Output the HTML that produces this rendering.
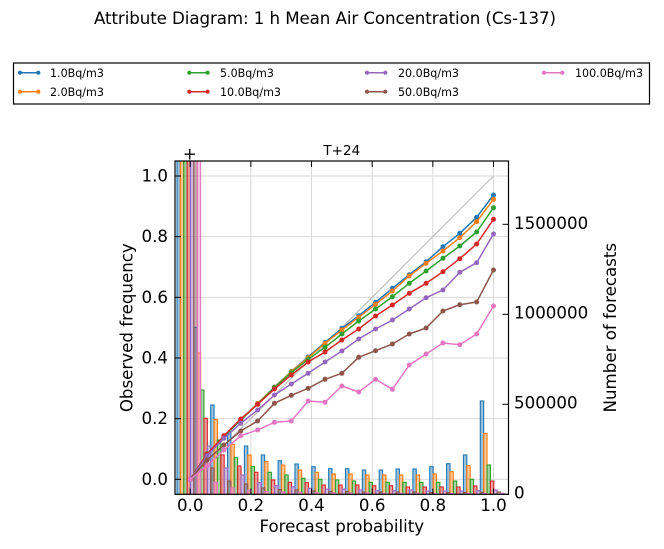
<!DOCTYPE html>
<html>
<head>
<meta charset="utf-8">
<style>
  html, body { margin:0; padding:0; background:#ffffff; }
  body { width:664px; height:549px; overflow:hidden; }
  svg { display:block; }
  text { font-family: "DejaVu Sans", "Liberation Sans", sans-serif; fill:#000; }
</style>
</head>
<body>
<svg width="664" height="549" viewBox="0 0 664 549" xmlns="http://www.w3.org/2000/svg">
  <defs>
    <clipPath id="ax"><rect x="175" y="161" width="333.5" height="333.3"/></clipPath>
    <marker id="m0" markerUnits="userSpaceOnUse" markerWidth="6" markerHeight="6" refX="3" refY="3" viewBox="0 0 6 6"><circle cx="3" cy="3" r="2.5" fill="#1f77b4"/></marker>
    <marker id="m1" markerUnits="userSpaceOnUse" markerWidth="6" markerHeight="6" refX="3" refY="3" viewBox="0 0 6 6"><circle cx="3" cy="3" r="2.5" fill="#ff7f0e"/></marker>
    <marker id="m2" markerUnits="userSpaceOnUse" markerWidth="6" markerHeight="6" refX="3" refY="3" viewBox="0 0 6 6"><circle cx="3" cy="3" r="2.5" fill="#2ca02c"/></marker>
    <marker id="m3" markerUnits="userSpaceOnUse" markerWidth="6" markerHeight="6" refX="3" refY="3" viewBox="0 0 6 6"><circle cx="3" cy="3" r="2.5" fill="#d62728"/></marker>
    <marker id="m4" markerUnits="userSpaceOnUse" markerWidth="6" markerHeight="6" refX="3" refY="3" viewBox="0 0 6 6"><circle cx="3" cy="3" r="2.5" fill="#9467bd"/></marker>
    <marker id="m5" markerUnits="userSpaceOnUse" markerWidth="6" markerHeight="6" refX="3" refY="3" viewBox="0 0 6 6"><circle cx="3" cy="3" r="2.5" fill="#8c564b"/></marker>
    <marker id="m6" markerUnits="userSpaceOnUse" markerWidth="6" markerHeight="6" refX="3" refY="3" viewBox="0 0 6 6"><circle cx="3" cy="3" r="2.5" fill="#e377c2"/></marker>
  </defs>

  <!-- Title -->
  <text x="94" y="24" font-size="16.67" textLength="462" lengthAdjust="spacing">Attribute Diagram: 1 h Mean Air Concentration (Cs-137)</text>

  <!-- Legend -->
  <rect x="13.5" y="63" width="636" height="41" fill="#fff" stroke="#000" stroke-width="1.2"/>
  <g stroke-width="1.5" font-size="11.1">
    <line x1="20" y1="72.7" x2="38.3" y2="72.7" stroke="#1f77b4"/><circle cx="20" cy="72.7" r="2.1" fill="#1f77b4"/><circle cx="38.3" cy="72.7" r="2.1" fill="#1f77b4"/>
    <text x="50" y="76.8">1.0Bq/m3</text>
    <line x1="20" y1="91.7" x2="38.3" y2="91.7" stroke="#ff7f0e"/><circle cx="20" cy="91.7" r="2.1" fill="#ff7f0e"/><circle cx="38.3" cy="91.7" r="2.1" fill="#ff7f0e"/>
    <text x="50" y="95.8">2.0Bq/m3</text>
    <line x1="189.3" y1="72.7" x2="207.6" y2="72.7" stroke="#2ca02c"/><circle cx="189.3" cy="72.7" r="2.1" fill="#2ca02c"/><circle cx="207.6" cy="72.7" r="2.1" fill="#2ca02c"/>
    <text x="220" y="76.8">5.0Bq/m3</text>
    <line x1="189.3" y1="91.7" x2="207.6" y2="91.7" stroke="#d62728"/><circle cx="189.3" cy="91.7" r="2.1" fill="#d62728"/><circle cx="207.6" cy="91.7" r="2.1" fill="#d62728"/>
    <text x="220" y="95.8">10.0Bq/m3</text>
    <line x1="367" y1="72.7" x2="385.3" y2="72.7" stroke="#9467bd"/><circle cx="367" cy="72.7" r="2.1" fill="#9467bd"/><circle cx="385.3" cy="72.7" r="2.1" fill="#9467bd"/>
    <text x="398" y="76.8">20.0Bq/m3</text>
    <line x1="367" y1="91.7" x2="385.3" y2="91.7" stroke="#8c564b"/><circle cx="367" cy="91.7" r="2.1" fill="#8c564b"/><circle cx="385.3" cy="91.7" r="2.1" fill="#8c564b"/>
    <text x="398" y="95.8">50.0Bq/m3</text>
    <line x1="544" y1="72.7" x2="562.3" y2="72.7" stroke="#e377c2"/><circle cx="544" cy="72.7" r="2.1" fill="#e377c2"/><circle cx="562.3" cy="72.7" r="2.1" fill="#e377c2"/>
    <text x="575" y="76.8">100.0Bq/m3</text>
  </g>

  <!-- Subplot title and marker -->
  <text x="341.8" y="155" font-size="13.5" text-anchor="middle">T+24</text>
  <text x="189.7" y="159.5" font-size="16.67" text-anchor="middle">+</text>

  <!-- Grid -->
  <g stroke="#d9d9d9" stroke-width="1">
    <line x1="190.2" y1="161" x2="190.2" y2="494.3"/>
    <line x1="250.86" y1="161" x2="250.86" y2="494.3"/>
    <line x1="311.52" y1="161" x2="311.52" y2="494.3"/>
    <line x1="372.18" y1="161" x2="372.18" y2="494.3"/>
    <line x1="432.84" y1="161" x2="432.84" y2="494.3"/>
    <line x1="493.5" y1="161" x2="493.5" y2="494.3"/>
    <line x1="175" y1="479.3" x2="508.5" y2="479.3"/>
    <line x1="175" y1="418.64" x2="508.5" y2="418.64"/>
    <line x1="175" y1="357.98" x2="508.5" y2="357.98"/>
    <line x1="175" y1="297.32" x2="508.5" y2="297.32"/>
    <line x1="175" y1="236.66" x2="508.5" y2="236.66"/>
    <line x1="175" y1="176" x2="508.5" y2="176"/>
  </g>

  <g clip-path="url(#ax)">
    <!-- Diagonal -->
    <line x1="190.2" y1="479.3" x2="493.5" y2="176" stroke="#c0c0c0" stroke-width="1.2"/>

    <!-- Bars -->
    <g fill-opacity="0.45" stroke-opacity="1" stroke-width="1.1">
      <g fill="#1f77b4" stroke="#1f77b4" transform="translate(0,0)">
        <rect x="177.00" y="140" width="3.37" height="354.3"/>
        <rect x="193.85" y="327.3" width="3.37" height="167"/>
        <rect x="210.70" y="405" width="3.37" height="89.3"/>
        <rect x="227.55" y="433.5" width="3.37" height="60.8"/>
        <rect x="244.40" y="446" width="3.37" height="48.3"/>
        <rect x="261.25" y="455" width="3.37" height="39.3"/>
        <rect x="278.10" y="460.7" width="3.37" height="33.6"/>
        <rect x="294.95" y="464" width="3.37" height="30.3"/>
        <rect x="311.80" y="466.7" width="3.37" height="27.6"/>
        <rect x="328.65" y="468.7" width="3.37" height="25.6"/>
        <rect x="345.50" y="468.7" width="3.37" height="25.6"/>
        <rect x="362.35" y="470" width="3.37" height="24.3"/>
        <rect x="379.20" y="470" width="3.37" height="24.3"/>
        <rect x="396.05" y="469" width="3.37" height="25.3"/>
        <rect x="412.90" y="469" width="3.37" height="25.3"/>
        <rect x="429.75" y="466.7" width="3.37" height="27.6"/>
        <rect x="446.60" y="463.7" width="3.37" height="30.6"/>
        <rect x="463.45" y="455" width="3.37" height="39.3"/>
        <rect x="480.30" y="401" width="3.37" height="93.3"/>
      </g>
      <g fill="#ff7f0e" stroke="#ff7f0e" transform="translate(3.37,0)">
        <rect x="177.00" y="140" width="3.37" height="354.3"/>
        <rect x="193.85" y="353" width="3.37" height="141.3"/>
        <rect x="210.70" y="419.5" width="3.37" height="74.8"/>
        <rect x="227.55" y="444.3" width="3.37" height="50"/>
        <rect x="244.40" y="455" width="3.37" height="39.3"/>
        <rect x="261.25" y="461.7" width="3.37" height="32.6"/>
        <rect x="278.10" y="465" width="3.37" height="29.3"/>
        <rect x="294.95" y="470" width="3.37" height="24.3"/>
        <rect x="311.80" y="472.3" width="3.37" height="22"/>
        <rect x="328.65" y="474" width="3.37" height="20.3"/>
        <rect x="345.50" y="474" width="3.37" height="20.3"/>
        <rect x="362.35" y="475" width="3.37" height="19.3"/>
        <rect x="379.20" y="475" width="3.37" height="19.3"/>
        <rect x="396.05" y="475" width="3.37" height="19.3"/>
        <rect x="412.90" y="475" width="3.37" height="19.3"/>
        <rect x="429.75" y="474" width="3.37" height="20.3"/>
        <rect x="446.60" y="471.7" width="3.37" height="22.6"/>
        <rect x="463.45" y="465.7" width="3.37" height="28.6"/>
        <rect x="480.30" y="433.3" width="3.37" height="61"/>
      </g>
      <g fill="#2ca02c" stroke="#2ca02c" transform="translate(6.74,0)">
        <rect x="177.00" y="140" width="3.37" height="354.3"/>
        <rect x="193.85" y="390" width="3.37" height="104.3"/>
        <rect x="210.70" y="440" width="3.37" height="54.3"/>
        <rect x="227.55" y="457.7" width="3.37" height="36.6"/>
        <rect x="244.40" y="466.7" width="3.37" height="27.6"/>
        <rect x="261.25" y="472.3" width="3.37" height="22"/>
        <rect x="278.10" y="475" width="3.37" height="19.3"/>
        <rect x="294.95" y="478.3" width="3.37" height="16"/>
        <rect x="311.80" y="479.3" width="3.37" height="15"/>
        <rect x="328.65" y="480" width="3.37" height="14.3"/>
        <rect x="345.50" y="481" width="3.37" height="13.3"/>
        <rect x="362.35" y="482.3" width="3.37" height="12"/>
        <rect x="379.20" y="482.3" width="3.37" height="12"/>
        <rect x="396.05" y="482.3" width="3.37" height="12"/>
        <rect x="412.90" y="482.3" width="3.37" height="12"/>
        <rect x="429.75" y="482.3" width="3.37" height="12"/>
        <rect x="446.60" y="481" width="3.37" height="13.3"/>
        <rect x="463.45" y="479.3" width="3.37" height="15"/>
        <rect x="480.30" y="465" width="3.37" height="29.3"/>
      </g>
      <g fill="#d62728" stroke="#d62728" transform="translate(10.11,0)">
        <rect x="177.00" y="140" width="3.37" height="354.3"/>
        <rect x="193.85" y="418.3" width="3.37" height="76"/>
        <rect x="210.70" y="455" width="3.37" height="39.3"/>
        <rect x="227.55" y="466" width="3.37" height="28.3"/>
        <rect x="244.40" y="472.3" width="3.37" height="22"/>
        <rect x="261.25" y="480" width="3.37" height="14.3"/>
        <rect x="278.10" y="482.3" width="3.37" height="12"/>
        <rect x="294.95" y="482.7" width="3.37" height="11.6"/>
        <rect x="311.80" y="485" width="3.37" height="9.3"/>
        <rect x="328.65" y="485" width="3.37" height="9.3"/>
        <rect x="345.50" y="485" width="3.37" height="9.3"/>
        <rect x="362.35" y="485.7" width="3.37" height="8.6"/>
        <rect x="379.20" y="485.7" width="3.37" height="8.6"/>
        <rect x="396.05" y="487" width="3.37" height="7.3"/>
        <rect x="412.90" y="487" width="3.37" height="7.3"/>
        <rect x="429.75" y="487" width="3.37" height="7.3"/>
        <rect x="446.60" y="487" width="3.37" height="7.3"/>
        <rect x="463.45" y="486" width="3.37" height="8.3"/>
        <rect x="480.30" y="481" width="3.37" height="13.3"/>
      </g>
      <g fill="#9467bd" stroke="#9467bd" transform="translate(13.48,0)">
        <rect x="177.00" y="140" width="3.37" height="354.3"/>
        <rect x="193.85" y="446" width="3.37" height="48.3"/>
        <rect x="210.70" y="468" width="3.37" height="26.3"/>
        <rect x="227.55" y="475" width="3.37" height="19.3"/>
        <rect x="244.40" y="482.7" width="3.37" height="11.6"/>
        <rect x="261.25" y="485.7" width="3.37" height="8.6"/>
        <rect x="278.10" y="486.7" width="3.37" height="7.6"/>
        <rect x="294.95" y="488.3" width="3.37" height="6"/>
        <rect x="311.80" y="489" width="3.37" height="5.3"/>
        <rect x="328.65" y="489" width="3.37" height="5.3"/>
        <rect x="345.50" y="490" width="3.37" height="4.3"/>
        <rect x="362.35" y="490.7" width="3.37" height="3.6"/>
        <rect x="379.20" y="490.7" width="3.37" height="3.6"/>
        <rect x="396.05" y="490" width="3.37" height="4.3"/>
        <rect x="412.90" y="491" width="3.37" height="3.3"/>
        <rect x="429.75" y="491" width="3.37" height="3.3"/>
        <rect x="446.60" y="491" width="3.37" height="3.3"/>
        <rect x="463.45" y="490.7" width="3.37" height="3.6"/>
        <rect x="480.30" y="490" width="3.37" height="4.3"/>
      </g>
      <g fill="#8c564b" stroke="#8c564b" transform="translate(16.85,0)">
        <rect x="177.00" y="140" width="3.37" height="354.3"/>
        <rect x="193.85" y="468" width="3.37" height="26.3"/>
        <rect x="210.70" y="481" width="3.37" height="13.3"/>
        <rect x="227.55" y="484" width="3.37" height="10.3"/>
        <rect x="244.40" y="488" width="3.37" height="6.3"/>
        <rect x="261.25" y="489.5" width="3.37" height="4.8"/>
        <rect x="278.10" y="490" width="3.37" height="4.3"/>
        <rect x="294.95" y="491" width="3.37" height="3.3"/>
        <rect x="311.80" y="491.5" width="3.37" height="2.8"/>
        <rect x="328.65" y="491.5" width="3.37" height="2.8"/>
        <rect x="345.50" y="492" width="3.37" height="2.3"/>
        <rect x="362.35" y="492" width="3.37" height="2.3"/>
        <rect x="379.20" y="492" width="3.37" height="2.3"/>
        <rect x="396.05" y="492" width="3.37" height="2.3"/>
        <rect x="412.90" y="492.5" width="3.37" height="1.8"/>
        <rect x="429.75" y="492.5" width="3.37" height="1.8"/>
        <rect x="446.60" y="492.5" width="3.37" height="1.8"/>
        <rect x="463.45" y="492.3" width="3.37" height="2"/>
        <rect x="480.30" y="492" width="3.37" height="2.3"/>
      </g>
      <g fill="#e377c2" stroke="#e377c2" transform="translate(20.22,0)">
        <rect x="177.00" y="140" width="3.37" height="354.3"/>
        <rect x="193.85" y="482" width="3.37" height="12.3"/>
        <rect x="210.70" y="488" width="3.37" height="6.3"/>
        <rect x="227.55" y="490" width="3.37" height="4.3"/>
        <rect x="244.40" y="491.5" width="3.37" height="2.8"/>
        <rect x="261.25" y="492" width="3.37" height="2.3"/>
        <rect x="278.10" y="492.3" width="3.37" height="2"/>
        <rect x="294.95" y="492.8" width="3.37" height="1.5"/>
        <rect x="311.80" y="493" width="3.37" height="1.3"/>
        <rect x="328.65" y="493" width="3.37" height="1.3"/>
        <rect x="345.50" y="493" width="3.37" height="1.3"/>
        <rect x="362.35" y="493.3" width="3.37" height="1"/>
        <rect x="379.20" y="493.3" width="3.37" height="1"/>
        <rect x="396.05" y="493.3" width="3.37" height="1"/>
        <rect x="412.90" y="493.5" width="3.37" height="0.8"/>
        <rect x="429.75" y="493.5" width="3.37" height="0.8"/>
        <rect x="446.60" y="493.5" width="3.37" height="0.8"/>
        <rect x="463.45" y="493.5" width="3.37" height="0.8"/>
        <rect x="480.30" y="493.3" width="3.37" height="1"/>
      </g>
    </g>

    <!-- Reliability lines -->
    <g fill="none" stroke-width="1.5" stroke-linejoin="round">
      <polyline stroke="#1f77b4" marker-start="url(#m0)" marker-mid="url(#m0)" marker-end="url(#m0)" points="190.2,479.3 207.05,454 223.9,436.5 240.75,420 257.6,403.5 274.45,387 291.3,371.5 308.15,357 325,342.5 341.85,328.3 358.7,315.7 375.55,302.3 392.4,288.3 409.25,274.7 426.1,261.7 442.95,246.7 459.8,233.3 476.65,217.3 493.5,195"/>
      <polyline stroke="#ff7f0e" marker-start="url(#m1)" marker-mid="url(#m1)" marker-end="url(#m1)" points="190.2,479.3 207.05,454 223.9,436.5 240.75,420 257.6,403.5 274.45,387.3 291.3,371.7 308.15,357.7 325,343.3 341.85,330 358.7,317.3 375.55,304.3 392.4,291 409.25,276 426.1,263.3 442.95,251 459.8,237.7 476.65,221.7 493.5,199.3"/>
      <polyline stroke="#2ca02c" marker-start="url(#m2)" marker-mid="url(#m2)" marker-end="url(#m2)" points="190.2,479.3 207.05,454 223.9,436.5 240.75,420 257.6,404 274.45,387.5 291.3,372.7 308.15,359.3 325,347.3 341.85,334 358.7,321 375.55,309 392.4,296.7 409.25,283.3 426.1,271 442.95,258.3 459.8,246 476.65,232 493.5,207.7"/>
      <polyline stroke="#d62728" marker-start="url(#m3)" marker-mid="url(#m3)" marker-end="url(#m3)" points="190.2,479.3 207.05,454.3 223.9,435.7 240.75,419 257.6,404.3 274.45,389 291.3,375 308.15,362 325,352 341.85,340 358.7,329 375.55,316 392.4,305 409.25,293.3 426.1,283.3 442.95,271.7 459.8,258.7 476.65,244 493.5,219.3"/>
      <polyline stroke="#9467bd" marker-start="url(#m4)" marker-mid="url(#m4)" marker-end="url(#m4)" points="190.2,479.3 207.05,455.7 223.9,438.3 240.75,423.3 257.6,410 274.45,395 291.3,384 308.15,373.3 325,362 341.85,351 358.7,339 375.55,329 392.4,320 409.25,309 426.1,297.7 442.95,290 459.8,272.3 476.65,262.7 493.5,234"/>
      <polyline stroke="#8c564b" marker-start="url(#m5)" marker-mid="url(#m5)" marker-end="url(#m5)" points="190.2,479.3 207.05,460 223.9,445 240.75,431 257.6,421 274.45,403.3 291.3,395.3 308.15,388.3 325,379.3 341.85,373.3 358.7,357.3 375.55,350.7 392.4,344 409.25,334 426.1,328 442.95,311 459.8,304.7 476.65,302 493.5,270"/>
      <polyline stroke="#e377c2" marker-start="url(#m6)" marker-mid="url(#m6)" marker-end="url(#m6)" points="190.2,479.3 207.05,465.7 223.9,450 240.75,435.7 257.6,430 274.45,422.3 291.3,421 308.15,401 325,402.3 341.85,386 358.7,392 375.55,379.3 392.4,389.3 409.25,365 426.1,354 442.95,343 459.8,344.7 476.65,334 493.5,306"/>
    </g>
  </g>

  <!-- Ticks -->
  <g stroke="#000" stroke-width="1">
    <line x1="175" y1="479.3" x2="181" y2="479.3"/>
    <line x1="175" y1="418.64" x2="181" y2="418.64"/>
    <line x1="175" y1="357.98" x2="181" y2="357.98"/>
    <line x1="175" y1="297.32" x2="181" y2="297.32"/>
    <line x1="175" y1="236.66" x2="181" y2="236.66"/>
    <line x1="175" y1="176" x2="181" y2="176"/>
    <line x1="190.2" y1="494.3" x2="190.2" y2="488.5"/>
    <line x1="250.86" y1="494.3" x2="250.86" y2="488.5"/>
    <line x1="311.52" y1="494.3" x2="311.52" y2="488.5"/>
    <line x1="372.18" y1="494.3" x2="372.18" y2="488.5"/>
    <line x1="432.84" y1="494.3" x2="432.84" y2="488.5"/>
    <line x1="493.5" y1="494.3" x2="493.5" y2="488.5"/>
    <line x1="190.2" y1="161" x2="190.2" y2="167"/>
    <line x1="250.86" y1="161" x2="250.86" y2="167"/>
    <line x1="311.52" y1="161" x2="311.52" y2="167"/>
    <line x1="372.18" y1="161" x2="372.18" y2="167"/>
    <line x1="432.84" y1="161" x2="432.84" y2="167"/>
    <line x1="493.5" y1="161" x2="493.5" y2="167"/>
    <line x1="508.5" y1="494.3" x2="502.5" y2="494.3"/>
    <line x1="508.5" y1="404.3" x2="502.5" y2="404.3"/>
    <line x1="508.5" y1="314.3" x2="502.5" y2="314.3"/>
    <line x1="508.5" y1="224.3" x2="502.5" y2="224.3"/>
  </g>

  <!-- Spines -->
  <rect x="175" y="161" width="333.5" height="333.3" fill="none" stroke="#000" stroke-width="1.2"/>

  <!-- Left tick labels -->
  <g font-size="16.67" text-anchor="end">
    <text x="168" y="484.8">0.0</text>
    <text x="168" y="424.1">0.2</text>
    <text x="168" y="363.5">0.4</text>
    <text x="168" y="302.8">0.6</text>
    <text x="168" y="242.2">0.8</text>
    <text x="168" y="181.5">1.0</text>
  </g>

  <!-- Bottom tick labels -->
  <g font-size="16.67" text-anchor="middle">
    <text x="190.2" y="511">0.0</text>
    <text x="250.86" y="511">0.2</text>
    <text x="311.52" y="511">0.4</text>
    <text x="372.18" y="511">0.6</text>
    <text x="432.84" y="511">0.8</text>
    <text x="493.5" y="511">1.0</text>
  </g>

  <!-- Right tick labels -->
  <g font-size="16.67" text-anchor="start">
    <text x="514" y="498.5">0</text>
    <text x="514" y="408.5">500000</text>
    <text x="514" y="318.5">1000000</text>
    <text x="514" y="228.8">1500000</text>
  </g>

  <!-- Axis labels -->
  <text x="341.8" y="532" font-size="16.67" text-anchor="middle">Forecast probability</text>
  <text transform="translate(132.5,327.7) rotate(-90)" font-size="16.67" text-anchor="middle">Observed frequency</text>
  <text transform="translate(616,327.7) rotate(-90)" font-size="16.67" text-anchor="middle">Number of forecasts</text>
</svg>
</body>
</html>
